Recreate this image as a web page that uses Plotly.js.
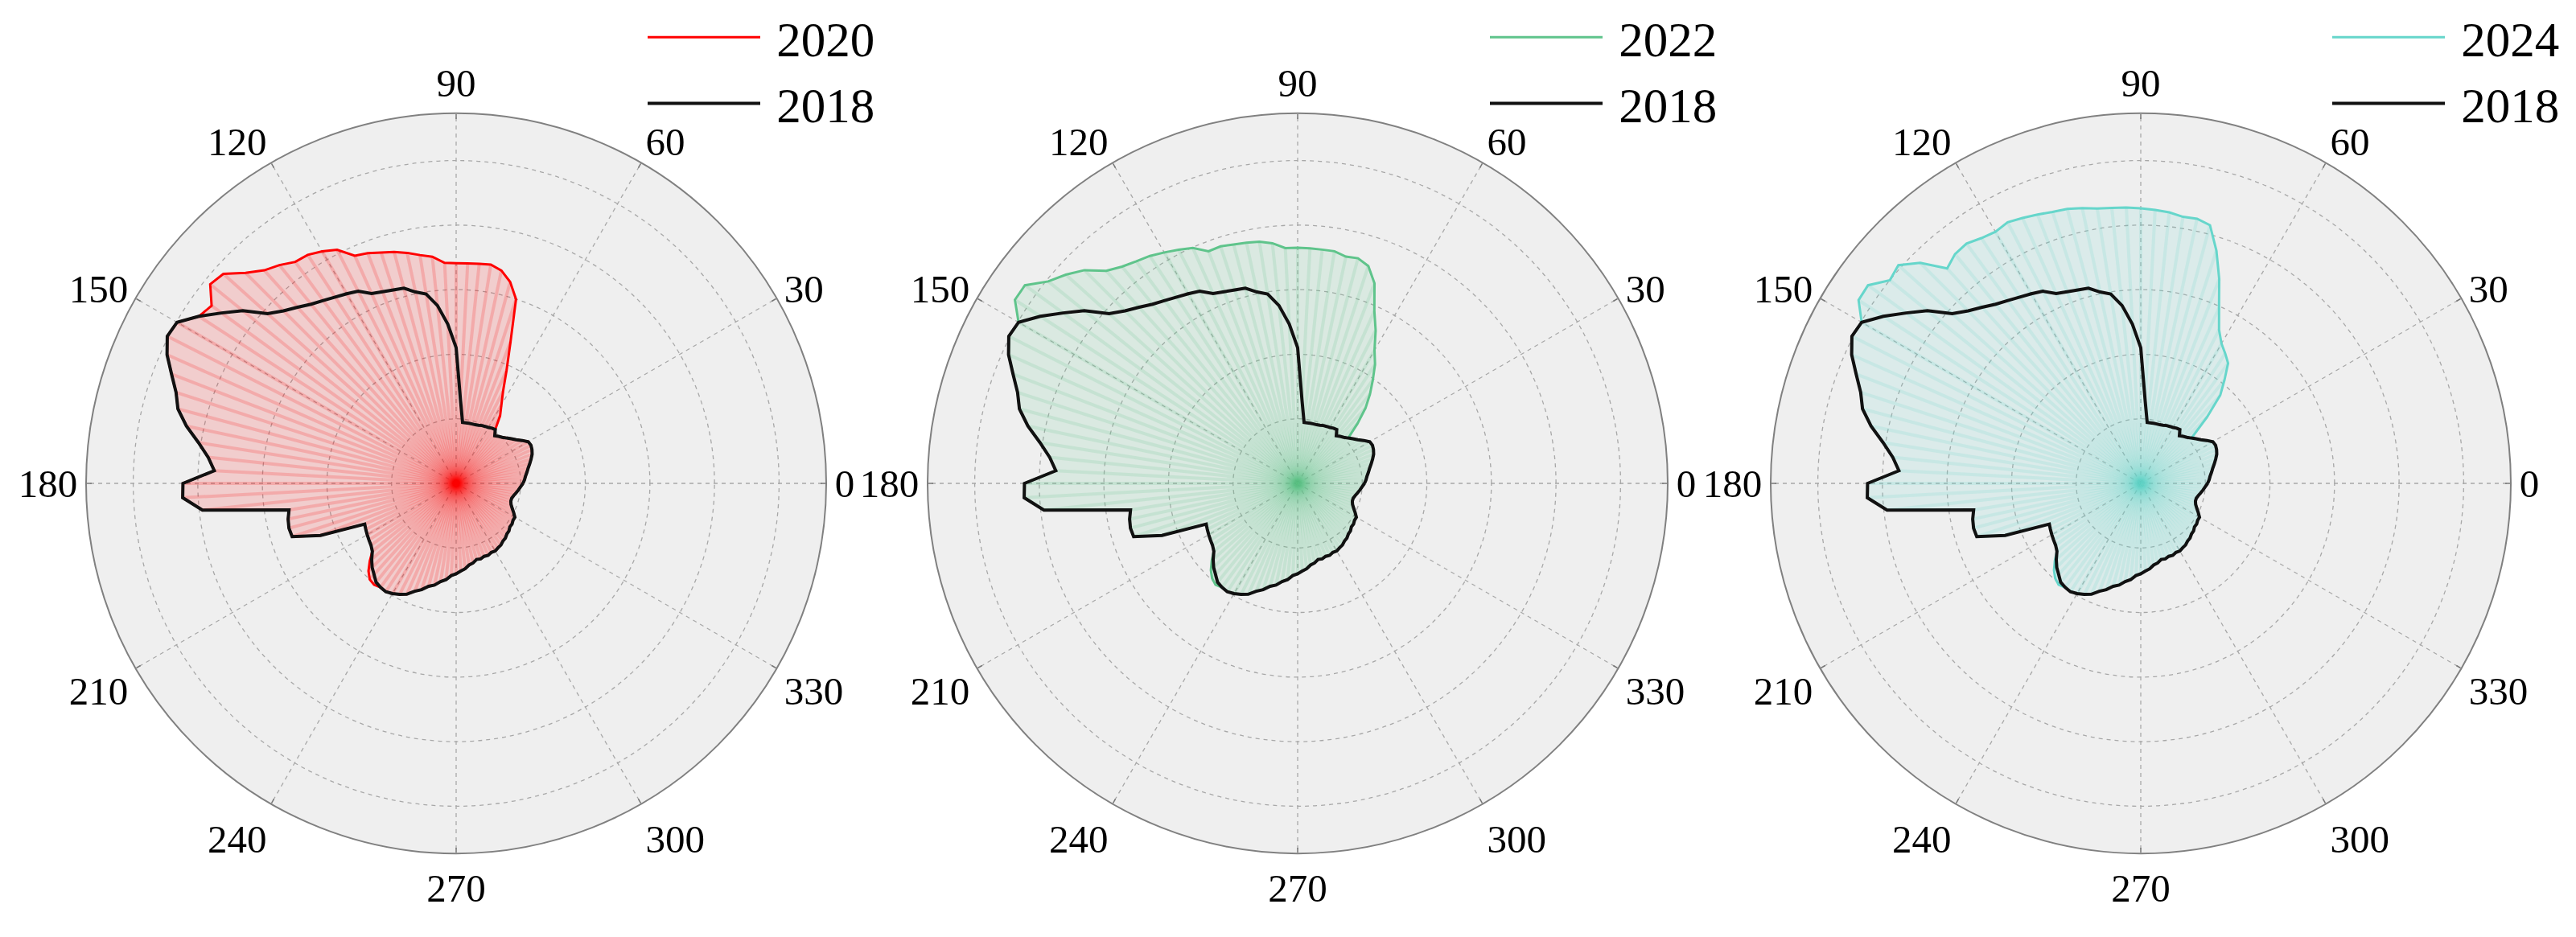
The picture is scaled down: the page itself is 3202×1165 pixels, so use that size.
<!DOCTYPE html>
<html>
<head>
<meta charset="utf-8">
<script src="https://cdn.plot.ly/plotly-3.0.1.min.js"></script>
<style>
  html, body { margin: 0; padding: 0; background: #fff; }
  #chart { width: 3202px; height: 1165px; }
</style>
</head>
<body>
<div id="chart"></div>
<script>
// sampling angles (deg) of the outlines
const angles = [0, 3, 6, 9, 12, 15, 18, 21, 24, 27, 30, 33, 36, 39, 42, 45, 48, 51, 54, 57,
    60, 63, 66, 69, 72, 75, 78, 81, 84, 87, 90, 93, 96, 99, 102, 105, 108, 111, 114, 117,
    120, 123, 126, 129, 132, 135, 138, 141, 144, 147, 150, 153, 156, 159, 162, 165, 168, 171, 174, 177,
    180, 183, 186, 189, 192, 195, 198, 201, 204, 207, 210, 213, 216, 219, 222, 225, 228, 231, 234, 237,
    240, 243, 246, 249, 252, 255, 258, 261, 264, 267, 270, 273, 276, 279, 282, 285, 288, 291, 294, 297,
    300, 303, 306, 309, 312, 315, 318, 321, 324, 327, 330, 333, 336, 339, 342, 345, 348, 351, 354, 357];

const tickAngles = [0, 30, 60, 90, 120, 150, 180, 210, 240, 270, 300, 330];
const tickLabels = ['0', '30', '60', '90', '120', '150', '180', '210', '240', '270', '300', '330'];

// baseline year
const r2018 = [1.035, 1.06, 1.08, 1.11, 1.14, 1.18, 1.22, 1.26, 1.285, 1.30, 1.29, 1.22, 1.15, 1.10, 1.05, 1.01, 0.98, 0.95, 1.03, 1.02,
    1.00, 0.99, 0.98, 0.965, 0.955, 0.953, 0.952, 0.95, 0.95, 1.29, 2.10, 2.47, 2.77, 2.97, 3.03, 3.13, 3.15, 3.18, 3.22, 3.34,
    3.39, 3.44, 3.50, 3.57, 3.67, 3.78, 3.93, 4.25, 4.49, 4.75, 4.99, 5.02, 4.90, 4.72, 4.56, 4.46, 4.27, 4.04, 3.86, 3.75,
    4.23, 4.24, 3.95, 2.62, 2.66, 2.68, 2.67, 2.25, 1.55, 1.57, 1.59, 1.61, 1.63, 1.67, 1.76, 1.84, 1.90, 1.97, 1.99, 2.00,
    1.97, 1.93, 1.88, 1.79, 1.73, 1.65, 1.61, 1.54, 1.50, 1.43, 1.40, 1.36, 1.33, 1.28, 1.26, 1.22, 1.23, 1.21, 1.22, 1.20,
    1.21, 1.19, 1.18, 1.15, 1.14, 1.11, 1.10, 1.07, 1.07, 1.05, 1.05, 1.00, 0.95, 0.91, 0.89, 0.89, 0.91, 0.94, 0.97, 1.00];

const r2020 = [1.035, 1.06, 1.08, 1.11, 1.14, 1.18, 1.22, 1.26, 1.285, 1.30, 1.29, 1.22, 1.15, 1.10, 1.05, 1.01, 0.98, 0.95, 1.03, 1.25,
    1.40, 1.60, 1.92, 2.35, 3.00, 3.23, 3.37, 3.43, 3.42, 3.41, 3.41, 3.42, 3.53, 3.58, 3.65, 3.71, 3.76, 3.82, 3.86, 4.06,
    4.15, 4.22, 4.24, 4.35, 4.44, 4.61, 4.85, 4.90, 4.68, 4.75, 4.99, 5.02, 4.90, 4.72, 4.56, 4.46, 4.27, 4.04, 3.86, 3.75,
    4.23, 4.24, 3.95, 2.62, 2.66, 2.68, 2.67, 2.25, 1.55, 1.57, 1.59, 1.61, 1.63, 1.67, 1.80, 1.92, 2.00, 2.02, 1.99, 2.00,
    1.97, 1.93, 1.88, 1.79, 1.73, 1.65, 1.61, 1.54, 1.50, 1.43, 1.40, 1.36, 1.33, 1.28, 1.26, 1.22, 1.23, 1.21, 1.22, 1.20,
    1.21, 1.19, 1.18, 1.15, 1.14, 1.11, 1.10, 1.07, 1.07, 1.05, 1.05, 1.00, 0.95, 0.91, 0.89, 0.89, 0.91, 0.94, 0.97, 1.00];

const r2022 = [1.035, 1.06, 1.08, 1.11, 1.14, 1.18, 1.22, 1.26, 1.285, 1.30, 1.29, 1.22, 1.15, 1.10, 1.06, 1.31, 1.57, 1.78, 1.98, 2.20,
    2.38, 2.66, 2.92, 3.32, 3.54, 3.61, 3.59, 3.64, 3.64, 3.645, 3.65, 3.65, 3.74, 3.79, 3.81, 3.83, 3.86, 3.85, 3.99, 4.06,
    4.13, 4.20, 4.25, 4.32, 4.43, 4.67, 4.83, 4.97, 5.22, 5.22, 4.99, 5.02, 4.90, 4.72, 4.56, 4.46, 4.27, 4.04, 3.86, 3.75,
    4.23, 4.24, 3.95, 2.62, 2.66, 2.68, 2.67, 2.25, 1.55, 1.57, 1.59, 1.61, 1.63, 1.67, 1.79, 1.90, 1.98, 2.02, 1.99, 2.00,
    1.97, 1.93, 1.88, 1.79, 1.73, 1.65, 1.61, 1.54, 1.50, 1.43, 1.40, 1.36, 1.33, 1.28, 1.26, 1.22, 1.23, 1.21, 1.22, 1.20,
    1.21, 1.19, 1.18, 1.15, 1.14, 1.11, 1.10, 1.07, 1.07, 1.05, 1.05, 1.00, 0.95, 0.91, 0.89, 0.89, 0.91, 0.94, 0.97, 1.00];

const r2024 = [1.035, 1.06, 1.08, 1.11, 1.14, 1.18, 1.22, 1.26, 1.285, 1.30, 1.29, 1.22, 1.15, 1.10, 1.07, 1.45, 1.84, 2.06, 2.30, 2.40,
    2.50, 2.67, 2.98, 3.39, 3.79, 4.14, 4.19, 4.18, 4.22, 4.24, 4.26, 4.28, 4.29, 4.31, 4.36, 4.40, 4.42, 4.46, 4.50, 4.54,
    4.50, 4.53, 4.59, 4.57, 4.48, 4.83, 5.05, 5.00, 5.22, 5.21, 4.99, 5.02, 4.90, 4.72, 4.56, 4.46, 4.27, 4.04, 3.86, 3.75,
    4.23, 4.24, 3.95, 2.62, 2.66, 2.68, 2.67, 2.25, 1.55, 1.57, 1.59, 1.61, 1.63, 1.67, 1.79, 1.90, 1.98, 2.02, 1.99, 2.00,
    1.97, 1.93, 1.88, 1.79, 1.73, 1.65, 1.61, 1.54, 1.50, 1.43, 1.40, 1.36, 1.33, 1.28, 1.26, 1.22, 1.23, 1.21, 1.22, 1.20,
    1.21, 1.19, 1.18, 1.15, 1.14, 1.11, 1.10, 1.07, 1.07, 1.05, 1.05, 1.00, 0.95, 0.91, 0.89, 0.89, 0.91, 0.94, 0.97, 1.00];

const years = ['2020', '2022', '2024'];
const yearSeries = [r2020, r2022, r2024];
const yearColors = ['#ff0000', '#5fc48b', '#66d6cb'];

const W = 3202, H = 1165;
const centersX = [567, 1613, 2661];
const centerY = 601;
const radius = 460;
const legendX = [800, 1847, 2894];

const font = 'Liberation Serif, Times New Roman, serif';

function rgba(hex, a) {
    const n = parseInt(hex.slice(1), 16);
    return `rgba(${(n >> 16) & 255},${(n >> 8) & 255},${n & 255},${a})`;
}

// close an outline by repeating the first point
function closed(arr) {
    return arr.concat([arr[0]]);
}

// one spoke per sampled angle, from the centre out to the outline
function spokes(r) {
    const th = [], rr = [];
    angles.forEach((a, i) => {
        th.push(a, a, null);
        rr.push(0, r[i], null);
    });
    return { th, rr };
}

const traces = [];
const layout = {
    width: W,
    height: H,
    margin: { l: 0, r: 0, t: 0, b: 0 },
    paper_bgcolor: '#ffffff',
    font: { family: font, size: 49, color: '#000' },
    showlegend: true
};

years.forEach((year, k) => {
    const sub = k === 0 ? 'polar' : 'polar' + (k + 1);
    const leg = k === 0 ? 'legend' : 'legend' + (k + 1);
    const color = yearColors[k];
    const r = yearSeries[k];
    const s = spokes(r);

    traces.push({
        type: 'scatterpolar', subplot: sub, mode: 'lines',
        r: closed(r), theta: closed(angles),
        fill: 'toself', fillcolor: rgba(color, 0.14),
        line: { width: 0, color: rgba(color, 0) },
        showlegend: false, hoverinfo: 'skip'
    });
    traces.push({
        type: 'scatterpolar', subplot: sub, mode: 'lines',
        r: s.rr, theta: s.th,
        line: { width: 4, color: rgba(color, 0.17) },
        showlegend: false, hoverinfo: 'skip'
    });
    // the gap between legend line and label is a plain space
    traces.push({
        type: 'scatterpolar', subplot: sub, mode: 'lines', name: '\u00a0' + year, legend: leg,
        r: closed(r), theta: closed(angles),
        line: { width: 3, color: color }
    });
    traces.push({
        type: 'scatterpolar', subplot: sub, mode: 'lines', name: '\u00a02018', legend: leg,
        r: closed(r2018), theta: closed(angles),
        line: { width: 4, color: '#111111' }
    });

    const cx = centersX[k];
    const cyPaper = 1 - centerY / H;
    layout[sub] = {
        domain: {
            x: [(cx - radius) / W, (cx + radius) / W],
            y: [cyPaper - radius / H, cyPaper + radius / H]
        },
        bgcolor: '#efefef',
        radialaxis: {
            range: [0, 5.73], dtick: 1,
            showline: false, showticklabels: false, ticks: '',
            gridcolor: '#a8a8a8', gridwidth: 1.3, griddash: '5px,5px'
        },
        angularaxis: {
            rotation: 0, direction: 'counterclockwise',
            tickmode: 'array', tickvals: tickAngles, ticktext: tickLabels,
            ticks: 'inside', ticklen: 6, tickcolor: '#777', tickwidth: 1.5,
            showline: true, linecolor: '#808080', linewidth: 2,
            gridcolor: '#a8a8a8', gridwidth: 1.3, griddash: '5px,5px',
            tickfont: { family: font, size: 49, color: '#000' }
        }
    };
    layout[leg] = {
        x: legendX[k] / W, y: 1.0, xanchor: 'left', yanchor: 'top',
        bgcolor: 'rgba(0,0,0,0)', borderwidth: 0,
        font: { family: font, size: 61, color: '#000' },
        itemwidth: 140, itemclick: false, itemdoubleclick: false
    };
});

Plotly.newPlot('chart', traces, layout, { staticPlot: true });
</script>
</body>
</html>
